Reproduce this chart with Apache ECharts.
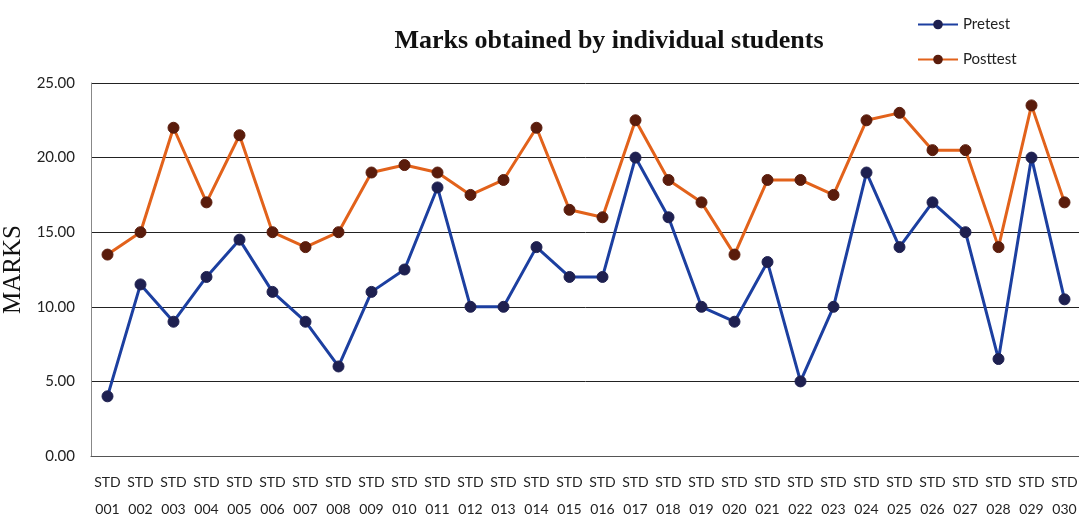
<!DOCTYPE html>
<html>
<head>
<meta charset="utf-8">
<script src="https://cdn.jsdelivr.net/npm/echarts@6/dist/echarts.min.js"></script>
<style>html,body{margin:0;padding:0;background:#fff}#c{width:1079px;height:516px}</style>
</head>
<body>
<div id="c"></div>
<script>
const categories = ["STD\n001","STD\n002","STD\n003","STD\n004","STD\n005","STD\n006","STD\n007","STD\n008","STD\n009","STD\n010","STD\n011","STD\n012","STD\n013","STD\n014","STD\n015","STD\n016","STD\n017","STD\n018","STD\n019","STD\n020","STD\n021","STD\n022","STD\n023","STD\n024","STD\n025","STD\n026","STD\n027","STD\n028","STD\n029","STD\n030"];
const pretest = [4,11.5,9,12,14.5,11,9,6,11,12.5,18,10,10,14,12,12,20,16,10,9,13,5,10,19,14,17,15,6.5,20,10.5];
const posttest = [13.5,15,22,17,21.5,15,14,15,19,19.5,19,17.5,18.5,22,16.5,16,22.5,18.5,17,13.5,18.5,18.5,17.5,22.5,23,20.5,20.5,14,23.5,17];
const titleText = "Marks obtained by individual students";
const yName = "MARKS";

const chart = echarts.init(document.getElementById('c'));
chart.setOption({
  animation:false,
  title:{text:titleText,left:604,top:23,textAlign:'center',
    textStyle:{fontFamily:'Liberation Serif',fontWeight:'bold',fontSize:26,color:'#111'}},
  legend:{orient:'vertical',left:912,top:12,itemGap:20,itemWidth:40,itemHeight:12,
    textStyle:{fontFamily:'Lato',fontSize:15,color:'#222'},
    data:['Pretest','Posttest']},
  grid:{left:91,right:-2,top:83,bottom:60,containLabel:false,outerBoundsMode:'none'},
  xAxis:{type:'category',data:categories,boundaryGap:true,
    axisLine:{show:true,lineStyle:{color:'#555',width:1}},
    axisTick:{show:false},
    axisLabel:{interval:0,fontFamily:'Lato',fontSize:14,color:'#222',lineHeight:27,margin:13}},
  yAxis:{type:'value',min:0,max:25,interval:5,name:yName,nameLocation:'middle',nameGap:62,
    nameTextStyle:{fontFamily:'Liberation Serif',fontSize:25,color:'#111'},
    axisLine:{show:true,lineStyle:{color:'#888',width:1}},
    axisTick:{show:false},
    axisLabel:{formatter:v=>v.toFixed(2),fontFamily:'Lato',fontSize:15,color:'#222',margin:16},
    splitLine:{show:true,lineStyle:{color:'#222',width:1}}},
  series:[
    {name:'Pretest',type:'line',data:pretest,symbol:'circle',symbolSize:11,
      lineStyle:{color:'#1c3fa0',width:3},itemStyle:{color:'#1e2050',borderColor:'#1e2050'},
      color:'#1c3fa0'},
    {name:'Posttest',type:'line',data:posttest,symbol:'circle',symbolSize:11,
      lineStyle:{color:'#e2621b',width:3},itemStyle:{color:'#5a1c0c',borderColor:'#5a1c0c'},
      color:'#e2621b'}
  ]
});
</script>
</body>
</html>
